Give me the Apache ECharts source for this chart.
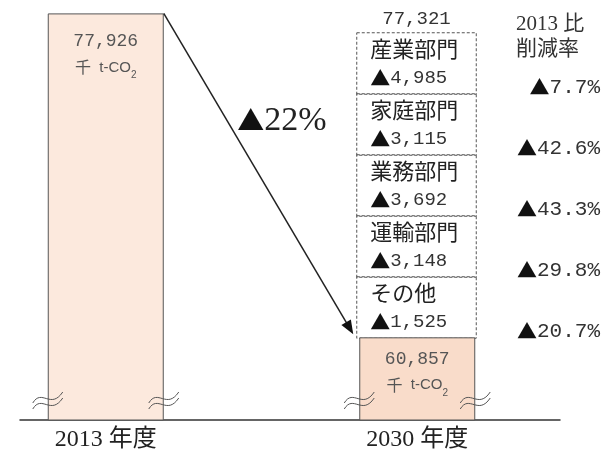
<!DOCTYPE html>
<html><head><meta charset="utf-8">
<script src="https://cdn.jsdelivr.net/npm/echarts@6/dist/echarts.min.js"></script>
<style>html,body{margin:0;padding:0;background:#fff}#c{width:609px;height:459px}</style>
</head><body><div id="c"></div>
<script>
// ---- data ----
const years = ['2013 年度', '2030 年度'];
const emissions = [77926, 60857];            // 千 t-CO2
const unitParts = ['千', '  t-CO', '2'];      // 千 t-CO₂
const sectors = ['産業部門', '家庭部門', '業務部門', '運輸部門', 'その他'];
const reductions = [4985, 3115, 3692, 3148, 1525];
const reductionRates = [7.7, 42.6, 43.3, 29.8, 20.7];
const subtotal2030 = 77321;
const totalReductionRate = 22;
const rateHeader = ['2013 比', '削減率'];
const placeholder2030 = ['2030 年度'];

// ---- style ----
const SERIF = "'Liberation Serif', 'Noto Sans CJK JP', serif";
const MONO = "'Liberation Mono', 'Noto Sans CJK JP', monospace";
const CJK = "'Noto Sans CJK JP', sans-serif";
const SANS = "'Liberation Sans', 'Noto Sans CJK JP', sans-serif";
const fmt = v => v.toLocaleString('en-US');
const AXIS_MIN = 56500, AXIS_MAX = 78000;
const BAR_W = 116;

const chart = echarts.init(document.getElementById('c'), null, {renderer: 'canvas'});

const option = {
  animation: false,
  backgroundColor: '#fff',
  title: {
    text: rateHeader.join('\n'), left: 511, top: 7,
    textStyle: {fontFamily: SERIF, fontSize: 21, lineHeight: 25, fontWeight: 'normal', color: '#333'}
  },
  grid: [
    {left: -50, right: 36, top: 12, bottom: 39, outerBoundsMode: 'none'},
    {left: 20, right: 49, top: 12, bottom: 39, outerBoundsMode: 'none'},
    {left: 357, right: 133, top: 33, bottom: 121, outerBoundsMode: 'none'}
  ],
  xAxis: [
    {gridIndex: 0, type: 'category', data: years,
     axisLine: {show: false}, axisTick: {show: false},
     axisLabel: {margin: 8, fontFamily: SERIF, fontSize: 24, color: '#222'}},
    {gridIndex: 1, type: 'value', min: 0, max: 1,
     axisLine: {show: true, lineStyle: {color: '#333', width: 1.5}},
     axisTick: {show: false}, axisLabel: {show: false}, splitLine: {show: false}},
    {gridIndex: 2, type: 'category', data: placeholder2030, position: 'top',
     name: fmt(subtotal2030), nameLocation: 'middle', nameGap: 5,
     nameTextStyle: {fontFamily: MONO, fontSize: 19, color: '#333'},
     axisLine: {show: false}, axisTick: {show: false}, axisLabel: {show: false}, splitLine: {show: false}}
  ],
  yAxis: [
    {gridIndex: 0, type: 'value', min: AXIS_MIN, max: AXIS_MAX, show: false},
    {gridIndex: 1, type: 'value', show: false},
    {gridIndex: 2, type: 'category', data: sectors, inverse: true, position: 'right',
     axisLine: {show: false}, axisTick: {show: false}, splitLine: {show: false},
     axisLabel: {
       margin: 124, align: 'right', verticalAlign: 'middle', padding: [47, 0, 0, 0],
       formatter: (v, i) => '{t|▲}{p|' + reductionRates[i].toFixed(1) + '%}',
       rich: {
         t: {fontFamily: CJK, fontSize: 20, color: '#111'},
         p: {fontFamily: MONO, fontSize: 21, color: '#333'}
       }
     }}
  ],
  series: [
    {
      type: 'bar', xAxisIndex: 0, yAxisIndex: 0, barWidth: BAR_W,
      data: emissions.map((v, i) => ({
        value: v,
        itemStyle: {color: i ? '#f9dcca' : '#fce9dd'},
        label: {distance: i ? 9 : 15}
      })),
      itemStyle: {borderColor: '#555', borderWidth: 1},
      label: {
        show: true, position: 'insideTop',
        formatter: p => '{v|' + fmt(p.value) + '}\n{k|' + unitParts[0] + '}{u|' + unitParts[1] + '}{s|' + unitParts[2] + '}',
        rich: {
          v: {fontFamily: MONO, fontSize: 18, color: '#555', lineHeight: 26},
          k: {fontFamily: CJK, fontSize: 16, color: '#555', lineHeight: 26},
          u: {fontFamily: SANS, fontSize: 15, color: '#555', lineHeight: 26},
          s: {fontFamily: SANS, fontSize: 10, color: '#555', lineHeight: 19, verticalAlign: 'bottom'}
        }
      }
    },
    {
      type: 'heatmap', xAxisIndex: 2, yAxisIndex: 2,
      data: reductions.map((v, i) => [0, i, v]),
      itemStyle: {color: 'rgba(255,255,255,0)', borderColor: '#555', borderWidth: 1, borderType: [3, 2]},
      emphasis: {disabled: true},
      label: {
        show: true, position: 'insideLeft', distance: 14,
        formatter: p => '{n|' + sectors[p.data[1]] + '}\n{t|▲}{v|' + fmt(p.data[2]) + '}',
        rich: {
          n: {fontFamily: CJK, fontSize: 22, color: '#222', lineHeight: 29},
          t: {fontFamily: CJK, fontSize: 20, color: '#111', lineHeight: 29},
          v: {fontFamily: MONO, fontSize: 19, color: '#333', lineHeight: 29}
        }
      }
    }
  ]
};
chart.setOption(option);

// ---- annotations positioned through the chart's own scales ----
const c0 = {xAxisIndex: 0, yAxisIndex: 0};
const pA = chart.convertToPixel(c0, [years[0], emissions[0]]);
const pB = chart.convertToPixel(c0, [years[1], emissions[1]]);
const yBase = chart.convertToPixel(c0, [years[0], AXIS_MIN])[1];
const half = BAR_W / 2;

const sx = pA[0] + half, sy = pA[1];
const tx = pB[0] - half - 6, ty = pB[1] - 3;
const dx = tx - sx, dy = ty - sy, len = Math.hypot(dx, dy);
const ux = dx / len, uy = dy / len, nx = -uy, ny = ux;
const bx = tx - ux * 14, by = ty - uy * 14;

const graphics = [
  {type: 'line', shape: {x1: sx, y1: sy, x2: bx + ux * 2, y2: by + uy * 2},
   style: {stroke: '#222', lineWidth: 1.5}, z: 10},
  {type: 'polygon', shape: {points: [[tx, ty], [bx + nx * 5.5, by + ny * 5.5], [bx - nx * 5.5, by - ny * 5.5]]},
   style: {fill: '#111'}, z: 10},
  {type: 'text', x: sx + dx * 0.335 + 10, y: sy + dy * 0.335, z: 10,
   style: {text: '{t|▲}{p|' + totalReductionRate + '%}', verticalAlign: 'middle', align: 'left',
     rich: {t: {fontFamily: CJK, fontSize: 27, fill: '#111'}, p: {fontFamily: SERIF, fontSize: 34, fill: '#222'}}}}
];
[pA[0] - half, pA[0] + half, pB[0] - half, pB[0] + half].forEach(x => {
  [0, 6].forEach(off => {
    const y = yBase - 21 + off;
    graphics.push({type: 'bezierCurve', z: 11,
      shape: {x1: x - 15, y1: y + 4, cpx1: x - 6, cpy1: y - 11, cpx2: x + 3, cpy2: y + 11, x2: x + 15, y2: y - 7},
      style: {stroke: '#555', lineWidth: 1, fill: null}});
  });
});
chart.setOption({graphic: graphics});
</script></body></html>
